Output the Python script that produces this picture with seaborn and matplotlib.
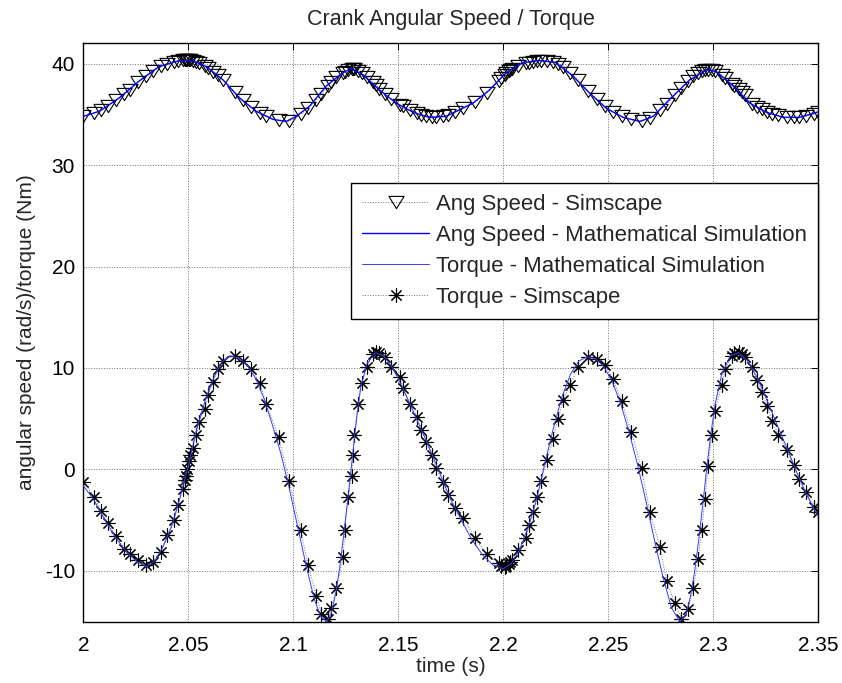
import numpy as np
import pandas as pd
import seaborn as sns
import matplotlib
matplotlib.use("Agg")
import matplotlib.pyplot as plt

# ---------------- data ----------------
title = "Crank Angular Speed / Torque"
xlabel = "time (s)"
ylabel = "angular speed (rad/s)/torque (Nm)"
legend_labels = ["Ang Speed - Simscape", "Ang Speed - Mathematical Simulation",
                 "Torque - Mathematical Simulation", "Torque - Simscape"]
xticks = [2.0, 2.05, 2.1, 2.15, 2.2, 2.25, 2.3, 2.35]
xticklabels = ["2", "2.05", "2.1", "2.15", "2.2", "2.25", "2.3", "2.35"]
yticks = [-10, 0, 10, 20, 30, 40]

# Simscape samples (time, torque, angular speed)
t_sim = [2.000, 2.0052, 2.0084, 2.0116, 2.0156, 2.0195, 2.022, 2.026, 2.030, 2.033,
         2.037, 2.040, 2.0434, 2.045, 2.0473, 2.0485, 2.049, 2.0495, 2.0505, 2.051,
         2.052, 2.0537, 2.0553, 2.0577, 2.0593, 2.0617, 2.064, 2.0665, 2.072, 2.076,
         2.080, 2.084, 2.087, 2.093, 2.098, 2.1035, 2.107, 2.111, 2.1134, 2.1166,
         2.118, 2.1205, 2.1237, 2.1245, 2.126, 2.1277, 2.1285, 2.129, 2.1308, 2.1325,
         2.135, 2.138, 2.1395, 2.141, 2.1435, 2.1467, 2.1507, 2.152, 2.1555, 2.1587,
         2.161, 2.1634, 2.1658, 2.168, 2.1713, 2.1737, 2.177, 2.181, 2.1865, 2.192,
         2.1977, 2.199, 2.2007, 2.2015, 2.2025, 2.203, 2.204, 2.207, 2.211, 2.212,
         2.2143, 2.216, 2.218, 2.2206, 2.2237, 2.226, 2.2285, 2.2317, 2.2357, 2.2404,
         2.2445, 2.2484, 2.2523, 2.2563, 2.261, 2.2658, 2.2698, 2.2746, 2.2777, 2.2817,
         2.2848, 2.288, 2.2904, 2.2928, 2.2944, 2.296, 2.2975, 2.2992, 2.3008, 2.304,
         2.3056, 2.3088, 2.310, 2.312, 2.3135, 2.315, 2.3183, 2.3207, 2.323, 2.3255,
         2.328, 2.331, 2.335, 2.3384, 2.3408, 2.344, 2.348, 2.350]
torque_sim = [-1.2, -2.7, -4.1, -5.3, -6.6, -7.8, -8.3, -8.9, -9.4, -9.1,
              -8.1, -6.5, -5.0, -3.5, -1.9, -1.0, -0.6, 0.0, 0.8, 1.4,
              2.1, 3.4, 4.7, 6.0, 7.3, 8.6, 9.9, 10.7, 11.2, 10.7,
              9.9, 8.5, 6.5, 3.2, -1.1, -6.0, -9.4, -12.5, -14.2, -14.7,
              -13.7, -11.7, -8.6, -6.0, -2.7, -0.6, 1.4, 3.4, 6.5, 8.5,
              10.1, 11.4, 11.6, 11.5, 11.1, 10.1, 9.1, 8.0, 6.5, 5.2,
              3.9, 2.7, 1.4, 0.1, -1.2, -2.5, -3.8, -4.8, -6.8, -8.3,
              -9.2, -9.5, -9.6, -9.5, -9.3, -9.1, -8.9, -7.9, -6.8, -5.5,
              -4.2, -2.7, -1.1, 0.9, 3.0, 5.0, 6.8, 8.3, 10.1, 11.1,
              10.9, 10.3, 8.9, 6.7, 3.7, 0.1, -4.2, -7.6, -11.0, -13.2,
              -14.7, -13.8, -11.7, -8.8, -6.0, -2.9, 0.3, 3.4, 5.8, 8.3,
              9.9, 11.2, 11.5, 11.6, 11.4, 11.1, 10.1, 8.8, 7.6, 6.3,
              4.8, 3.4, 1.9, 0.4, -0.9, -2.2, -3.7, -4.2]
speed_sim = [34.8, 35.1, 35.4, 35.8, 36.4, 37.0, 37.4, 38.2, 38.8, 39.3,
             39.8, 40.0, 40.2, 40.3, 40.4, 40.4, 40.4, 40.4, 40.4, 40.4,
             40.3, 40.2, 40.1, 39.8, 39.6, 39.2, 38.9, 38.4, 37.2, 36.4,
             35.7, 35.1, 34.8, 34.4, 34.3, 35.0, 35.6, 36.4, 37.0, 37.8,
             38.2, 38.7, 39.1, 39.2, 39.4, 39.5, 39.5, 39.5, 39.3, 39.1,
             38.7, 38.2, 37.9, 37.5, 37.0, 36.5, 35.9, 35.8, 35.4, 35.1,
             34.9, 34.8, 34.7, 34.7, 34.8, 34.9, 35.2, 35.6, 36.2, 37.1,
             38.3, 38.6, 38.9, 39.1, 39.3, 39.4, 39.5, 39.8, 40.1, 40.1,
             40.2, 40.3, 40.3, 40.3, 40.2, 40.0, 39.7, 39.1, 38.4, 37.3,
             36.5, 35.8, 35.2, 34.8, 34.5, 34.3, 34.6, 35.4, 36.0, 36.9,
             37.6, 38.3, 38.8, 39.1, 39.3, 39.4, 39.4, 39.4, 39.3, 38.9,
             38.6, 38.0, 37.8, 37.5, 37.2, 36.9, 36.0, 35.7, 35.5, 35.2,
             35.0, 34.9, 34.7, 34.7, 34.7, 34.8, 35.0, 35.2]

# Mathematical simulation: angular speed
t_speed_math = [2.000, 2.0076, 2.017, 2.0267, 2.036, 2.0458, 2.052, 2.0585, 2.0665, 2.0744,
                2.0823, 2.0903, 2.0966, 2.1013, 2.1077, 2.1157, 2.1236, 2.1276, 2.1331, 2.141,
                2.149, 2.157, 2.1648, 2.1728, 2.1776, 2.1855, 2.1934, 2.2013, 2.2093, 2.2172,
                2.225, 2.233, 2.241, 2.249, 2.257, 2.265, 2.2714, 2.2793, 2.2888, 2.2968,
                2.3015, 2.3094, 2.3174, 2.3253, 2.3333, 2.3412, 2.3508]
speed_math = [34.8, 35.3, 36.6, 38.3, 39.7, 40.3, 40.3, 39.7, 38.4, 36.6,
              35.3, 34.5, 34.3, 34.8, 35.8, 37.8, 39.1, 39.5, 38.9, 37.4,
              36.1, 35.2, 34.7, 34.8, 35.3, 36.1, 37.4, 39.1, 40.1, 40.3,
              40.1, 38.8, 37.1, 35.6, 34.7, 34.3, 34.8, 36.5, 38.4, 39.4,
              39.2, 37.8, 36.1, 35.2, 34.7, 34.7, 35.3]

# Mathematical simulation: torque
t_torque_math = [2.000, 2.005, 2.010, 2.015, 2.020, 2.025, 2.030, 2.034, 2.038, 2.042,
                 2.046, 2.050, 2.054, 2.058, 2.062, 2.066, 2.070, 2.074, 2.078, 2.082,
                 2.086, 2.090, 2.094, 2.098, 2.102, 2.106, 2.110, 2.113, 2.116, 2.118,
                 2.120, 2.122, 2.124, 2.126, 2.128, 2.130, 2.132, 2.135, 2.139, 2.143,
                 2.147, 2.151, 2.155, 2.159, 2.163, 2.167, 2.171, 2.175, 2.180, 2.185,
                 2.190, 2.195, 2.200, 2.204, 2.208, 2.212, 2.216, 2.220, 2.224, 2.228,
                 2.232, 2.236, 2.240, 2.244, 2.248, 2.252, 2.256, 2.260, 2.264, 2.268,
                 2.272, 2.276, 2.280, 2.284, 2.287, 2.289, 2.291, 2.293, 2.295, 2.297,
                 2.299, 2.301, 2.304, 2.308, 2.312, 2.316, 2.320, 2.324, 2.328, 2.332,
                 2.336, 2.340, 2.344, 2.348, 2.350]
torque_math = [-1.6, -3.0, -4.9, -6.6, -8.0, -9.0, -9.6, -9.0, -7.6, -5.6,
               -2.8, 0.4, 4.0, 6.8, 9.0, 10.6, 11.2, 11.0, 10.3, 9.0,
               7.0, 4.4, 1.6, -1.8, -5.6, -9.4, -12.8, -14.5, -15.0, -14.2,
               -12.4, -9.8, -6.4, -2.8, 1.0, 4.8, 8.0, 10.4, 11.5, 11.2,
               10.1, 8.5, 6.7, 4.8, 3.0, 1.0, -1.0, -3.0, -5.0, -6.9,
               -8.4, -9.4, -9.8, -9.2, -7.8, -5.6, -2.8, 0.8, 4.2, 7.2,
               9.4, 10.7, 11.1, 10.9, 10.1, 8.6, 6.4, 3.6, 0.4, -3.2,
               -7.0, -10.6, -13.6, -15.0, -14.3, -12.6, -10.2, -7.0, -3.4, 0.4,
               3.8, 6.6, 9.4, 11.2, 11.5, 10.8, 9.4, 7.6, 5.6, 3.6,
               1.6, -0.4, -2.3, -3.9, -4.6]

# ---------------- styling ----------------
sns.set_style("white")
plt.rcParams["font.family"] = ["Liberation Sans", "DejaVu Sans"]
plt.rcParams["axes.unicode_minus"] = False

fig = plt.figure(figsize=(8.42, 6.83), dpi=100)
ax = fig.add_axes([0.0990, 0.0898, 0.8729, 0.8468])

tri = [(-1.0, 0.8), (1.0, 0.8), (0.0, -0.8), (-1.0, 0.8)]
star = (8, 2, 0)

sns.lineplot(x=t_sim, y=speed_sim, ax=ax, sort=False, estimator=None,
             color="0.45", linestyle=":", linewidth=0.7,
             marker=tri, markersize=11, markerfacecolor="none",
             markeredgecolor="k", markeredgewidth=0.8, zorder=3)
sns.lineplot(x=t_speed_math, y=speed_math, ax=ax, sort=False, estimator=None,
             color="#0000ff", linestyle="-", linewidth=1.0, zorder=4)
sns.lineplot(x=t_torque_math, y=torque_math, ax=ax, sort=False, estimator=None,
             color="#3a3aff", linestyle="-", linewidth=0.7, zorder=4)
sns.lineplot(x=t_sim, y=torque_sim, ax=ax, sort=False, estimator=None,
             color="0.45", linestyle=":", linewidth=0.7,
             marker=star, markersize=10, markerfacecolor="none",
             markeredgecolor="k", markeredgewidth=0.8, zorder=3)

ax.set_xlim(2.0, 2.35)
ax.set_ylim(-15, 42)
ax.set_xticks(xticks)
ax.set_xticklabels(xticklabels)
ax.set_yticks(yticks)
ax.set_yticklabels([str(v) for v in yticks])

ax.grid(True, linestyle=":", color="0.45", linewidth=0.7)
ax.tick_params(direction="in", length=5, width=0.7, top=True, right=True,
               labelsize=15, colors="k")
ax.tick_params(axis="x", pad=10)
ax.tick_params(axis="y", pad=6)
for s in ax.spines.values():
    s.set_visible(True)
    s.set_color("k")
    s.set_linewidth(1.0)

ax.set_title(title, fontsize=15.5, pad=13)
ax.set_xlabel(xlabel, fontsize=15, labelpad=2)
ax.set_ylabel(ylabel, fontsize=15, labelpad=6)

lines = ax.get_lines()
handles = [lines[0], lines[1], lines[2], lines[3]]
leg = ax.legend(handles, legend_labels, loc="upper right",
                bbox_to_anchor=(1.0, 0.7585), borderaxespad=0.0,
                fontsize=15.9, frameon=True, fancybox=False, shadow=False,
                handlelength=3.05, handletextpad=0.32, labelspacing=0.45,
                borderpad=0.5, framealpha=1.0)
leg.get_frame().set_edgecolor("k")
leg.get_frame().set_linewidth(1.0)

fig.savefig("out.png", dpi=100, facecolor="white")
